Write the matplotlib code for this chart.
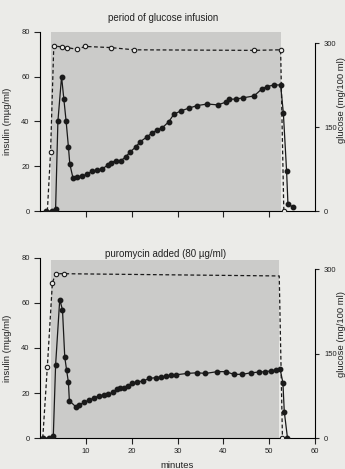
import numpy as np
import matplotlib
matplotlib.use("Agg")
import matplotlib.pyplot as plt

plt.rcParams['font.family'] = ['Liberation Sans', 'DejaVu Sans']

# top panel: glucose infusion
ins1_t = [1.3, 2.7, 3.4, 3.9, 4.7, 5.2, 5.7, 6.2, 6.5, 7.2, 8.1, 9.2, 10.3, 11.4, 12.5,
          13.6, 14.8, 15.4, 16.5, 17.6, 18.7, 19.7, 20.9, 21.9, 23.4, 24.5, 25.6, 26.7,
          28.1, 29.2, 30.7, 32.4, 34.3, 36.5, 38.8, 40.5, 41.2, 42.7, 44.4, 46.7, 48.5,
          49.6, 51.0, 52.5, 53.1, 53.8, 54.1, 55.1]
ins1_v = [0, 0, 1, 40, 60, 50, 40, 28.6, 21, 14.7, 15.2, 15.6, 16.5, 17.9, 18.3,
          18.8, 20.6, 21.5, 22.5, 22.3, 24.3, 26.4, 28.7, 31, 33.2, 35, 36.2, 37.2,
          39.9, 43.2, 44.7, 45.9, 47.1, 47.8, 47.4, 48.6, 49.9, 50, 50.6, 51.4, 54.7,
          55.6, 56.3, 56.3, 43.7, 18, 3.1, 1.9]
glu1_t = [1.6, 2.3, 3.0, 4.8, 5.9, 8.0, 9.9, 15.4, 20.5, 46.7, 52.5, 53.2]
glu1_v = [0, 105, 295, 293, 292, 289, 294, 292, 288, 287, 288, 0]
glu1_open = [False, True, True, True, True, True, True, True, True, True, True, True]

# bottom panel: puromycin added
ins2_t = [0.7, 1.9, 2.9, 3.4, 4.3, 4.9, 5.4, 5.8, 6.2, 6.4, 7.8, 8.6, 9.7, 10.7, 11.8,
          12.8, 13.9, 14.8, 16.0, 16.7, 17.4, 18.3, 19.3, 20.1, 21.2, 22.5, 23.8, 25.2,
          26.3, 27.4, 28.5, 29.7, 32.1, 34.3, 36.1, 38.7, 40.5, 42.3, 44.1, 46.1, 47.8,
          49.2, 50.3, 51.4, 52.4, 53.0, 53.3, 54.0]
ins2_v = [0, 0, 1, 32.4, 61.5, 57, 35.9, 30.2, 24.7, 16.6, 13.9, 14.8, 15.9, 16.9, 17.8,
          18.7, 19.2, 19.4, 20.3, 21.8, 22.2, 22.4, 23.1, 24.3, 25, 25.3, 26.5, 26.8,
          27.1, 27.4, 28, 28.1, 28.7, 29, 28.7, 29.5, 29.5, 28.3, 28.3, 29, 29.3,
          29.5, 29.8, 30.2, 30.5, 24.6, 11.7, 0]
glu2_t = [0.6, 1.6, 2.7, 3.4, 5.2, 52.2, 52.9]
glu2_v = [0, 127, 276, 292, 292, 288, 0]
glu2_open = [False, True, True, True, True, False, True]

titles = ["period of glucose infusion", "puromycin added (80 \u00b5g/ml)"]
shade = [(2.3, 52.5, 80), (2.3, 52.2, 79)]

bg = '#ebebe8'
fig = plt.figure(figsize=(3.45, 4.69), dpi=100, facecolor=bg)
ax_top = fig.add_axes([0.116, 0.550, 0.797, 0.382])
ax_bot = fig.add_axes([0.116, 0.066, 0.797, 0.384])

panels = [(ax_top, ins1_t, ins1_v, glu1_t, glu1_v, glu1_open),
          (ax_bot, ins2_t, ins2_v, glu2_t, glu2_v, glu2_open)]

for i, (ax, it, iv, gt, gv, gopen) in enumerate(panels):
    ax.set_facecolor(bg)
    x0, x1, ytop = shade[i]
    ax.fill_between([x0, x1], 0, ytop, color='#cbcbc9', lw=0, zorder=0)
    ax.plot(it, iv, '-o', color='#1a1a1a', lw=0.9, ms=3.2, zorder=3)
    ax.set_xlim(0, 60)
    ax.set_ylim(0, 80)
    ax.set_yticks([0, 20, 40, 60, 80])
    ax.spines['top'].set_visible(False)
    ax.spines['right'].set_visible(False)
    ax.spines['left'].set_bounds(0, 80)
    ax.tick_params(labelsize=5.5, length=4, width=0.8, colors='#222222')
    ax.set_ylabel("insulin (m\u00b5g/ml)", fontsize=6.8, color='#222222', labelpad=7)

    ax2 = ax.twinx()
    ax2.patch.set_visible(False)
    ax2.plot(gt, gv, '--', color='#1a1a1a', lw=0.9, dashes=(3, 2), zorder=2)
    ot = [t for t, o in zip(gt, gopen) if o]
    ov = [v for v, o in zip(gv, gopen) if o]
    ax2.plot(ot, ov, 'o', mfc=bg, mec='#1a1a1a', ms=3.2, mew=0.8, zorder=4)
    ax2.set_ylim(0, 320)
    ax2.set_yticks([0, 150, 300])
    for s in ['top', 'left', 'bottom']:
        ax2.spines[s].set_visible(False)
    ax2.spines['right'].set_bounds(0, 300)
    ax2.tick_params(labelsize=5.5, length=3, width=0.8, colors='#222222')
    ax2.set_ylabel("glucose (mg/100 ml)", fontsize=6.8, color='#222222', labelpad=4)
    ax2.yaxis.set_label_coords(1.08, 0.62 if i == 0 else 0.58)

ax_top.set_xticks([10, 20, 30, 40, 50])
ax_top.set_xticklabels([])
ax_bot.set_xticks([10, 20, 30, 40, 50, 60])
ax_bot.set_xlabel("minutes", fontsize=6.8, color='#222222', labelpad=4)

fig.text(0.472, 0.962, titles[0], fontsize=7, ha='center', va='center', color='#222222')
fig.text(0.48, 0.458, titles[1], fontsize=7, ha='center', va='center', color='#222222')

fig.savefig("out.png", dpi=100, facecolor=bg)
